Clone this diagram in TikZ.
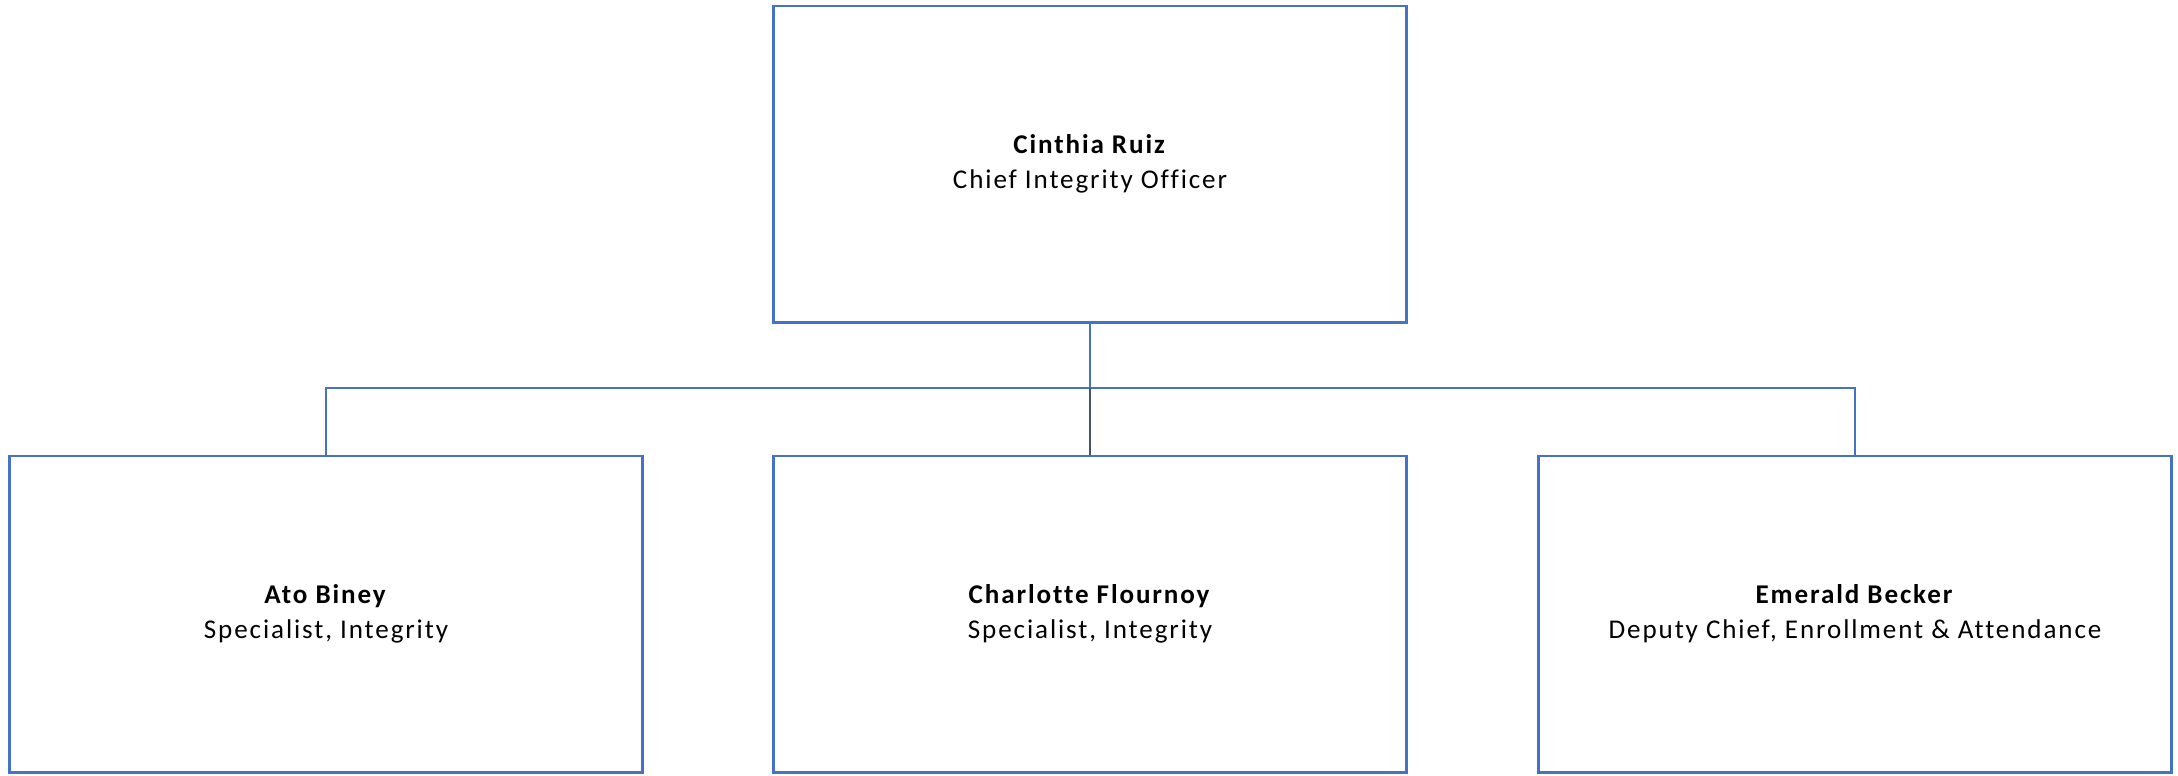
\documentclass[tikz,border=0pt]{standalone}
\usepackage{fontspec}
\setmainfont{Carlito}[LetterSpace=7, Ligatures={NoCommon}]
\definecolor{bleu}{HTML}{4472C4}
\definecolor{ardoise}{HTML}{44546A}
\begin{document}
\begin{tikzpicture}[x=0.01cm, y=-0.01cm]
			\tikzset{boite/.style={rectangle, draw=bleu, line width=0.8pt, inner sep=0pt, minimum width=6.32cm, minimum height=3.16cm, align=center, font=\fontsize{7.7}{10}\selectfont}, lien/.style={draw=bleu, line width=0.8pt}};

			\useasboundingbox (0,0) rectangle (2178,775);

			\node[boite] (ruiz)   at (1090, 164) {\textbf{Cinthia Ruiz}\\Chief Integrity Officer};
			\node[boite] (biney)  at ( 326, 614) {\textbf{Ato Biney}\\Specialist, Integrity};
			\node[boite] (flour)  at (1090, 614) {\textbf{Charlotte Flournoy}\\Specialist, Integrity};
			\node[boite] (becker) at (1855, 614) {\textbf{Emerald Becker}\\Deputy Chief, Enrollment \& Attendance};

			\coordinate (bus) at (1090, 388);

			\draw[lien] (ruiz.south) -- (bus);
			\draw[lien] (biney.north) |- (bus);
			\draw[lien] (becker.north) |- (bus);
			\draw[line width=0.8pt, ardoise] (bus) -- (flour.north);

		\end{tikzpicture}
\end{document}
